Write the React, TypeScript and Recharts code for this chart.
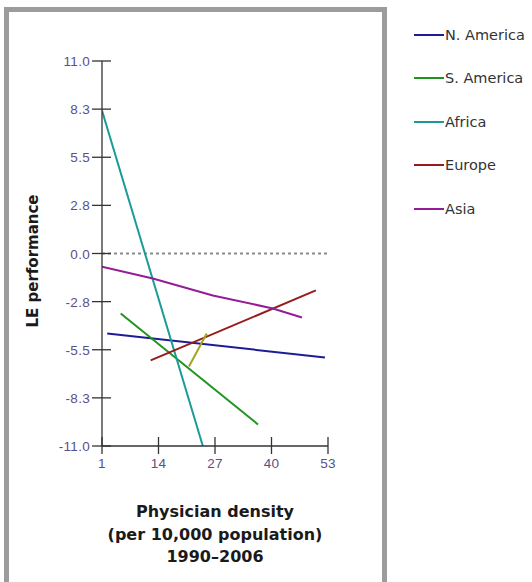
import React from 'react';
import { LineChart, Line, XAxis, YAxis, ReferenceLine } from 'recharts';

// Fitted trend lines
const naX = [2.2, 52.3];
const naY = [-4.57, -5.94];
const saX = [5.3, 36.9];
const saY = [-3.43, -9.77];
const afX = [1, 24.2];
const afY = [8.17, -11.0];
const euX = [12.2, 50.2];
const euY = [-6.11, -2.11];
const asX = [1, 12.7, 26.5, 40.3, 47];
const asY = [-0.75, -1.43, -2.4, -3.14, -3.66];
const olX = [21, 25.1];
const olY = [-6.46, -4.57];

const xTicks = [1, 14, 27, 40, 53];
const yTicks = [-11, -8.25, -5.5, -2.75, 0, 2.75, 5.5, 8.25, 11];
const yTickLabels = ['-11.0', '-8.3', '-5.5', '-2.8', '0.0', '2.8', '5.5', '8.3', '11.0'];

const toPoints = (xs: number[], ys: number[]) => xs.map((x, i) => ({ x, y: ys[i] }));

const series = [
  { name: 'N. America', color: '#1c1c96', data: toPoints(naX, naY) },
  { name: 'S. America', color: '#1f951f', data: toPoints(saX, saY) },
  { name: 'Africa', color: '#1a9a9a', data: toPoints(afX, afY) },
  { name: 'Europe', color: '#961c1c', data: toPoints(euX, euY) },
  { name: 'Asia', color: '#961c96', data: toPoints(asX, asY) },
];
const olive = toPoints(olX, olY);

const TICK = 9;
const GAP = 2;
const tickColor = '#58508a';
const tickFont = "'Liberation Sans', Arial, sans-serif";
const axisColor = '#333';

const YTick = (props: any) => {
  const { x, y, payload } = props;
  const axisX = x + TICK + GAP;
  const idx = yTicks.indexOf(payload.value);
  return (
    <g>
      <line x1={axisX - 10} x2={axisX + 9} y1={y} y2={y} stroke={axisColor} strokeWidth={1.3} />
      <text x={axisX - 12} y={y} dy={5} textAnchor="end" fontSize={13.5} fill={tickColor}
        fontFamily={tickFont} letterSpacing={0.3}>
        {idx >= 0 ? yTickLabels[idx] : payload.value}
      </text>
    </g>
  );
};

const XTick = (props: any) => {
  const { x, y, payload } = props;
  const axisY = y - TICK - GAP;
  return (
    <g>
      <line x1={x} x2={x} y1={axisY - 9} y2={axisY + 8} stroke={axisColor} strokeWidth={1.3} />
      <text x={x} y={axisY} dy={22} textAnchor="middle" fontSize={13.5} fill={tickColor}
        fontFamily={tickFont} letterSpacing={0.3}>
        {payload.value}
      </text>
    </g>
  );
};

export default function App() {
  return (
    <div style={{ position: 'absolute', left: 0, top: 0, width: 532, height: 582, overflow: 'hidden', background: '#fff' }}>
      <div style={{
        position: 'absolute', left: 4, top: 7, width: 373, height: 600,
        border: '5px solid #9c9c9e',
      }} />
      <div style={{ position: 'absolute', left: 0, top: 0 }}>
        <LineChart width={532} height={582} margin={{ top: 61, right: 204, bottom: 106, left: 42 }}>
          <XAxis type="number" dataKey="x" domain={[1, 53]} ticks={xTicks} allowDataOverflow
            stroke={axisColor} strokeWidth={1.3} tickLine={false} tickSize={TICK} tickMargin={GAP}
            tick={<XTick />} height={30} />
          <YAxis type="number" dataKey="y" domain={[-11, 11]} ticks={yTicks} allowDataOverflow
            stroke={axisColor} strokeWidth={1.3} tickLine={false} tickSize={TICK} tickMargin={GAP}
            tick={<YTick />} width={60} />
          <ReferenceLine y={0} stroke="#8a8a8a" strokeWidth={2} strokeDasharray="3 3" />
          {series.map(s => (
            <Line key={s.name} name={s.name} data={s.data} dataKey="y" stroke={s.color}
              strokeWidth={2} dot={false} isAnimationActive={false} />
          ))}
          <Line name="olive" data={olive} dataKey="y" stroke="#a3a320" strokeWidth={2}
            dot={false} legendType="none" isAnimationActive={false} />
        </LineChart>
      </div>
      <div style={{ position: 'absolute', left: 414, top: 13 }}>
        {series.map(s => (
          <div key={s.name} style={{ display: 'flex', alignItems: 'center', height: 43.5 }}>
            <div style={{ width: 30, height: 2, background: s.color, marginRight: 1 }} />
            <span style={{ fontSize: 14.5, color: '#333', fontFamily: "'DejaVu Sans', sans-serif", whiteSpace: 'nowrap' }}>
              {s.name}
            </span>
          </div>
        ))}
      </div>
      <div style={{
        position: 'absolute', left: 33, top: 261, transform: 'translate(-50%, -50%) rotate(-90deg)',
        whiteSpace: 'nowrap', fontWeight: 'bold', fontSize: 15, color: '#1a1a1a',
        fontFamily: "'DejaVu Sans', sans-serif",
      }}>
        LE performance
      </div>
      <div style={{
        position: 'absolute', left: 95, top: 501, width: 240, textAlign: 'center',
        fontWeight: 'bold', fontSize: 16, lineHeight: '22.5px', color: '#1a1a1a',
        fontFamily: "'DejaVu Sans', sans-serif",
      }}>
        Physician density<br />(per 10,000 population)<br />1990–2006
      </div>
    </div>
  );
}
